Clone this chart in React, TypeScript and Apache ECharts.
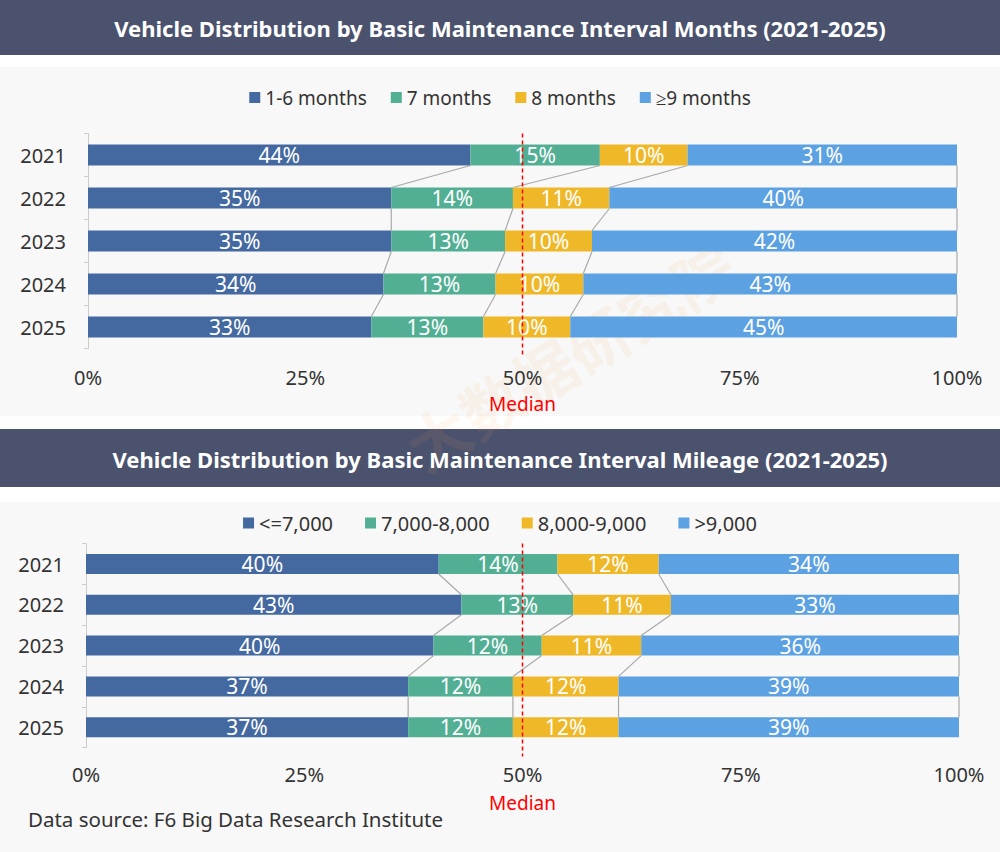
import { useEffect, useRef } from "react";
import * as echarts from "echarts";

// --- data ---
const years = ["2021", "2022", "2023", "2024", "2025"];
const xTicks = [0, 25, 50, 75, 100];
const medianValue = 50;

const monthNames = ["1-6 months", "7 months", "8 months", "≥9 months"];
const months1to6 = [44.0, 34.9, 34.9, 34.0, 32.6];
const months7 = [14.9, 14.0, 13.1, 12.9, 12.9];
const months8 = [10.1, 11.1, 10.0, 10.1, 10.0];
const months9plus = [31.0, 40.0, 42.0, 43.0, 44.5];

const mileageNames = ["<=7,000", "7,000-8,000", "8,000-9,000", ">9,000"];
const mileUnder7k = [40.4, 43.0, 39.8, 36.9, 36.9];
const mile7to8k = [13.6, 12.8, 12.4, 12.0, 12.0];
const mile8to9k = [11.6, 11.2, 11.4, 12.1, 12.1];
const mileOver9k = [34.4, 33.0, 36.4, 39.0, 39.0];

const colors = ["#4469a1", "#53af94", "#efb829", "#5ca1e2"];
const FONT = "Noto Sans";

function cumulative(groups: number[][]) {
  // per year: end positions of each segment
  return years.map((_, i) => {
    let acc = 0;
    return groups.map((g) => (acc += g[i]));
  });
}

function connectorData(groups: number[][]) {
  const cum = cumulative(groups);
  const rows: number[][] = [];
  for (let i = 0; i < years.length - 1; i++) {
    rows.push([i, ...cum[i], ...cum[i + 1]]);
  }
  return rows;
}

function buildSeries(
  names: string[],
  groups: number[][],
  axisIndex: number,
  barH: number
) {
  const bars = names.map((name, k) => ({
    name,
    type: "bar",
    stack: "total" + axisIndex,
    xAxisIndex: axisIndex,
    yAxisIndex: axisIndex,
    barWidth: barH,
    data: groups[k],
    itemStyle: { color: colors[k] },
    label: {
      show: true,
      position: "inside",
      color: "#ffffff",
      fontSize: 21,
      fontFamily: FONT,
      formatter: (p: any) => Math.round(p.value) + "%",
    },
    z: 3,
  }));

  // thin grey "series lines" joining the segment edges of neighbouring bars
  const connectors = {
    type: "custom",
    xAxisIndex: axisIndex,
    yAxisIndex: axisIndex,
    silent: true,
    clip: false,
    z: 2,
    encode: { x: [1, 2, 3, 4, 5, 6, 7, 8], y: 0 },
    data: connectorData(groups),
    renderItem: (_params: any, api: any) => {
      const i = api.value(0);
      const children: any[] = [];
      for (let k = 0; k < 4; k++) {
        const a = api.coord([api.value(1 + k), i]);
        const b = api.coord([api.value(5 + k), i + 1]);
        children.push({
          type: "line",
          shape: { x1: a[0], y1: a[1] + barH / 2, x2: b[0], y2: b[1] - barH / 2 },
          style: { stroke: "#a9a9a9", lineWidth: 1.2 },
        });
      }
      return { type: "group", children };
    },
  };

  const median = {
    type: "custom",
    xAxisIndex: axisIndex,
    yAxisIndex: axisIndex,
    silent: true,
    clip: false,
    z: 10,
    encode: { x: 0, y: 1 },
    data: [[medianValue, 0]],
    renderItem: (_params: any, api: any) => {
      const band = api.size([0, 1])[1];
      const top = api.coord([api.value(0), 0]);
      const bottom = api.coord([api.value(0), years.length - 1]);
      const y1 = top[1] - band / 2;
      const y2 = bottom[1] + band / 2;
      return {
        type: "group",
        children: [
          {
            type: "line",
            shape: { x1: top[0], y1, x2: top[0], y2: y2 + 9 },
            style: { stroke: "#ff0000", lineWidth: 1.5, lineDash: [4, 3] },
          },
          {
            type: "text",
            x: top[0],
            y: y2 + 55,
            style: {
              text: "Median",
              fill: "#ff0000",
              fontSize: 19,
              fontFamily: FONT,
              align: "center",
              verticalAlign: "middle",
            },
          },
        ],
      };
    },
  };

  return [...bars, connectors, median];
}

export default function App() {
  const chartRef = useRef<HTMLDivElement>(null);

  useEffect(() => {
    document.body.style.margin = "0";
    if (!chartRef.current) return;
    const chart = echarts.init(chartRef.current, undefined, { renderer: "svg" });

    const monthGroups = [months1to6, months7, months8, months9plus];
    const mileGroups = [mileUnder7k, mile7to8k, mile8to9k, mileOver9k];

    const xAxisBase = {
      type: "value",
      min: 0,
      max: 100,
      interval: 25,
      axisLine: { show: false },
      axisTick: { show: false },
      splitLine: { show: false },
      axisLabel: {
        color: "#333333",
        fontSize: 20,
        fontFamily: FONT,
        formatter: (v: number) => (xTicks.includes(v) ? v + "%" : ""),
      },
    };

    const yAxisBase = {
      type: "category",
      data: years,
      inverse: true,
      axisLine: { show: true, lineStyle: { color: "#cccccc" } },
      axisTick: { show: true, length: 4, lineStyle: { color: "#cccccc" } },
      axisLabel: { color: "#333333", fontSize: 20, fontFamily: FONT, margin: 22 },
    };

    const legendBase = {
      left: "center",
      icon: "rect",
      itemWidth: 11,
      itemHeight: 11,
      selectedMode: false,
    };

    const titleText = {
      color: "#ffffff",
      fontSize: 22,
      fontWeight: "bold",
      fontFamily: FONT,
    };

    const watermark = {
      text: "大数据研究院",
      fill: "rgba(245,165,90,0.09)",
      fontSize: 62,
      fontWeight: "bold",
      fontFamily: "Noto Sans CJK SC",
    };

    const option = {
      animation: false,
      backgroundColor: "#ffffff",
      textStyle: { fontFamily: FONT },
      title: [
        {
          text: "Vehicle Distribution by Basic Maintenance Interval Months (2021-2025)",
          left: "center",
          top: 12,
          textStyle: titleText,
        },
        {
          text: "Vehicle Distribution by Basic Maintenance Interval Mileage (2021-2025)",
          left: "center",
          top: 443,
          textStyle: titleText,
        },
      ],
      legend: [
        {
          ...legendBase,
          data: monthNames,
          top: 83,
          itemGap: 24,
          textStyle: { color: "#333333", fontSize: 19, fontFamily: FONT },
        },
        {
          ...legendBase,
          data: mileageNames,
          top: 508,
          itemGap: 32,
          textStyle: { color: "#333333", fontSize: 20, fontFamily: FONT },
        },
      ],
      grid: [
        { left: 88, right: 43, top: 133.5, height: 215 },
        { left: 86, right: 41, top: 543.6, height: 204 },
      ],
      xAxis: [
        { ...xAxisBase, gridIndex: 0, axisLabel: { ...xAxisBase.axisLabel, margin: 19 } },
        { ...xAxisBase, gridIndex: 1, axisLabel: { ...xAxisBase.axisLabel, margin: 17 } },
      ],
      yAxis: [
        { ...yAxisBase, gridIndex: 0 },
        { ...yAxisBase, gridIndex: 1 },
      ],
      graphic: [
        { type: "rect", z: -10, shape: { x: 0, y: 0, width: 1000, height: 55 }, style: { fill: "#4a526d" } },
        { type: "rect", z: -10, shape: { x: 0, y: 67, width: 1000, height: 349 }, style: { fill: "#f8f8f8" } },
        { type: "rect", z: -10, shape: { x: 0, y: 429, width: 1000, height: 58 }, style: { fill: "#4a526d" } },
        { type: "rect", z: -10, shape: { x: 0, y: 502, width: 1000, height: 350 }, style: { fill: "#f8f8f8" } },
        {
          type: "text",
          z: -5,
          x: 395,
          y: 425,
          rotation: 0.55,
          style: watermark,
        },
        {
          type: "text",
          left: 28,
          top: 808,
          style: {
            text: "Data source: F6 Big Data Research Institute",
            fill: "#333333",
            fontSize: 20.5,
            fontFamily: FONT,
          },
        },
      ],
      series: [
        ...buildSeries(monthNames, monthGroups, 0, 21),
        ...buildSeries(mileageNames, mileGroups, 1, 20),
      ],
    };

    chart.setOption(option as any);

    return () => {
      chart.dispose();
    };
  }, []);

  return <div ref={chartRef} style={{ width: 1000, height: 852 }} />;
}
